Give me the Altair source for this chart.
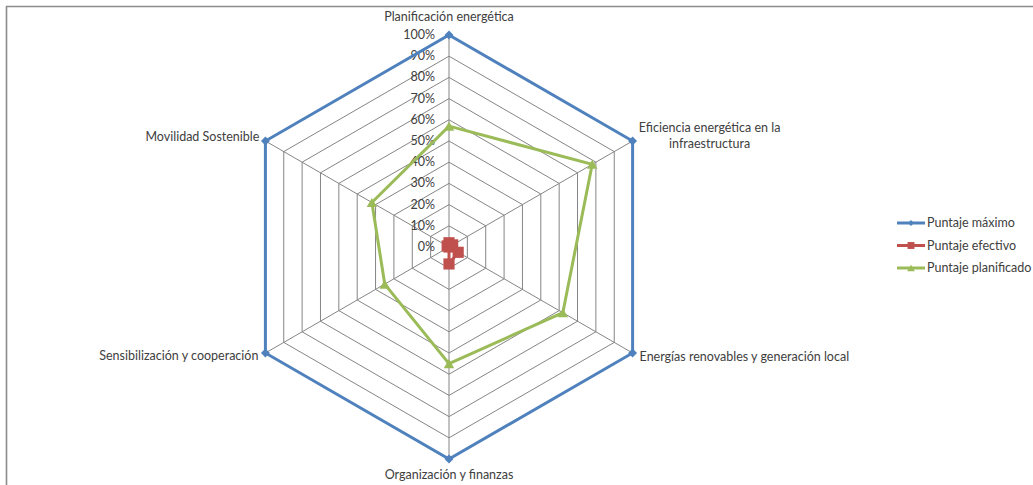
import altair as alt
import pandas as pd

# ---------------- data ----------------
ejes = [
    "Planificación energética",
    "Eficiencia energética en la infraestructura",
    "Energías renovables y generación local",
    "Organización y finanzas",
    "Sensibilización y cooperación",
    "Movilidad Sostenible",
]
series = ["Puntaje máximo", "Puntaje efectivo", "Puntaje planificado"]
puntaje_maximo = [1.0, 1.0, 1.0, 1.0, 1.0, 1.0]
puntaje_efectivo = [0.02, 0.02, 0.05, 0.08, 0.0, 0.01]
puntaje_planificado = [0.57, 0.78, 0.62, 0.55, 0.35, 0.42]
niveles = [0.1, 0.2, 0.3, 0.4, 0.5, 0.6, 0.7, 0.8, 0.9, 1.0]
ticks = [0.0, 0.1, 0.2, 0.3, 0.4, 0.5, 0.6, 0.7, 0.8, 0.9, 1.0]

colores = ["#4F81BD", "#C0504D", "#9BBB59"]
formas = ["diamond", "square", "triangle-up"]
tamanos = [80, 125, 110]
tamanos_leyenda = [35, 60, 50]

# ---------------- layout ----------------
W, H = 1033, 485
CX, CY, R = 449, 247, 212
FONT = "Lato"
GRID = "#858585"
TXT = "#404040"

xs = alt.Scale(domain=[-CX / R, (W - CX) / R], nice=False, zero=False)
ys = alt.Scale(domain=[-(H - CY) / R, CY / R], nice=False, zero=False)


def X(f):
    return alt.X(f, type="quantitative", scale=xs, axis=None)


def Y(f):
    return alt.Y(f, type="quantitative", scale=ys, axis=None)


rows = []
for s, vals in zip(series, [puntaje_maximo, puntaje_efectivo, puntaje_planificado]):
    for i, (e, v) in enumerate(zip(ejes, vals)):
        rows.append({"serie": s, "idx": i, "eje": e, "valor": v})
df = pd.DataFrame(rows)

df_ejes = pd.DataFrame({"idx": list(range(len(ejes))), "eje": ejes})
df_rings = pd.DataFrame(
    [{"nivel": n, "idx": i} for n in niveles for i in range(len(ejes))]
)
df_ticks = pd.DataFrame({"v": ticks})
df_leg = pd.DataFrame({"serie": series})

# grid rings
rings = (
    alt.Chart(df_rings)
    .transform_calculate(ang="datum.idx * PI / 3")
    .transform_calculate(px="datum.nivel * sin(datum.ang)", py="datum.nivel * cos(datum.ang)")
    .mark_line(interpolate="linear-closed", color=GRID, strokeWidth=1)
    .encode(x=X("px"), y=Y("py"), detail="nivel:N", order="idx:Q")
)

# spokes
spokes = (
    alt.Chart(df_ejes)
    .transform_calculate(ang="datum.idx * PI / 3", z="0")
    .transform_calculate(ex="sin(datum.ang)", ey="cos(datum.ang)")
    .mark_rule(color=GRID, strokeWidth=1)
    .encode(x=X("z"), y=Y("z"), x2="ex:Q", y2="ey:Q")
)

# tick labels
tick_labels = (
    alt.Chart(df_ticks)
    .transform_calculate(z="0")
    .mark_text(align="right", baseline="middle", dx=-14, fontSize=12.5, font=FONT, color=TXT)
    .encode(x=X("z"), y=Y("v"), text=alt.Text("v:Q", format=".0%"))
)

# series
series_layers = []
for s, c, f, sz in zip(series, colores, formas, tamanos):
    base = (
        alt.Chart(df)
        .transform_filter(alt.datum.serie == s)
        .transform_calculate(ang="datum.idx * PI / 3")
        .transform_calculate(px="datum.valor * sin(datum.ang)", py="datum.valor * cos(datum.ang)")
    )
    line = base.mark_line(interpolate="linear-closed", color=c, strokeWidth=3).encode(
        x=X("px"), y=Y("py"), order="idx:Q"
    )
    pts = base.mark_point(filled=True, opacity=1, color=c, shape=f, size=sz).encode(
        x=X("px"), y=Y("py")
    )
    series_layers += [line, pts]

# category labels
lab_base = (
    alt.Chart(df_ejes)
    .transform_calculate(ang="datum.idx * PI / 3")
    .transform_calculate(ex="sin(datum.ang)", ey="cos(datum.ang)")
)
lab_kw = dict(fontSize=12.5, font=FONT, color=TXT)
lab_top = lab_base.transform_filter("datum.idx == 0").mark_text(
    align="center", baseline="middle", dy=-18, **lab_kw
).encode(x=X("ex"), y=Y("ey"), text="eje:N")
lab_ur = lab_base.transform_filter("datum.idx == 1").transform_calculate(
    t="'Eficiencia energética en la\\ninfraestructura'"
).mark_text(
    align="center", baseline="middle", dx=77, dy=-13, lineBreak="\n", lineHeight=15.5, **lab_kw
).encode(x=X("ex"), y=Y("ey"), text="t:N")
lab_lr = lab_base.transform_filter("datum.idx == 2").mark_text(
    align="left", baseline="middle", dx=7, dy=4, **lab_kw
).encode(x=X("ex"), y=Y("ey"), text="eje:N")
lab_bot = lab_base.transform_filter("datum.idx == 3").mark_text(
    align="center", baseline="middle", dy=16, **lab_kw
).encode(x=X("ex"), y=Y("ey"), text="eje:N")
lab_ll = lab_base.transform_filter("datum.idx == 4").mark_text(
    align="right", baseline="middle", dx=-7, dy=3, **lab_kw
).encode(x=X("ex"), y=Y("ey"), text="eje:N")
lab_ul = lab_base.transform_filter("datum.idx == 5").mark_text(
    align="right", baseline="middle", dx=-6, dy=-4, **lab_kw
).encode(x=X("ex"), y=Y("ey"), text="eje:N")

radar = alt.layer(
    rings, spokes, tick_labels, *series_layers, lab_top, lab_ur, lab_lr, lab_bot, lab_ll, lab_ul
)

# legend (library scales for the vertical placement)
ly = alt.Y(
    "serie:N",
    scale=alt.Scale(type="point", domain=series, range=[223, 268], padding=0),
    axis=None,
)
lcol = alt.Color("serie:N", scale=alt.Scale(domain=series, range=colores), legend=None)
lshape = alt.Shape("serie:N", scale=alt.Scale(domain=series, range=formas), legend=None)
lsize = alt.Size("serie:N", scale=alt.Scale(domain=series, range=tamanos_leyenda), legend=None)
leg_base = alt.Chart(df_leg)
leg_rule = leg_base.mark_rule(strokeWidth=3).encode(
    x=alt.value(897), x2=alt.value(925), y=ly, color=lcol
)
leg_pts = leg_base.mark_point(filled=True, opacity=1).encode(
    x=alt.value(911), y=ly, color=lcol, shape=lshape, size=lsize
)
leg_txt = leg_base.mark_text(align="left", baseline="middle", fontSize=12.5, font=FONT, color=TXT).encode(
    x=alt.value(927), y=ly, text="serie:N"
)
legend = alt.layer(leg_rule, leg_pts, leg_txt)

# frame
frame_top = alt.Chart(df_leg.head(1)).mark_rule(color="#8c8c8c", strokeWidth=1.6).encode(
    x=alt.value(6), x2=alt.value(W), y=alt.value(6.5)
)
frame_left = alt.Chart(df_leg.head(1)).mark_rule(color="#8c8c8c", strokeWidth=1.6).encode(
    x=alt.value(6.5), y=alt.value(6), y2=alt.value(H)
)

chart = (
    alt.layer(frame_top, frame_left, radar, legend)
    .resolve_scale(y="independent", color="independent", shape="independent", size="independent")
    .properties(width=W, height=H, autosize=alt.AutoSizeParams(type="none"), padding=0, background="white")
    .configure_view(stroke=None)
)

chart.save("out.html", embed_options={"renderer": "svg", "actions": False})
